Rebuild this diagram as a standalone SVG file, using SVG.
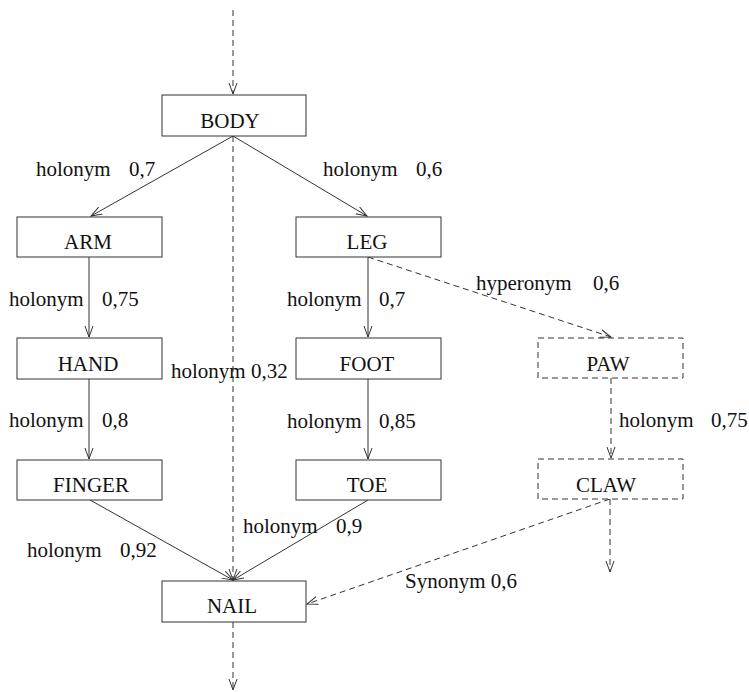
<svg xmlns="http://www.w3.org/2000/svg" width="749" height="692" viewBox="0 0 749 692">
<defs>
<style>
.box{fill:#fff;stroke:#333;stroke-width:1}
.dbox{fill:#fff;stroke:#333;stroke-width:1;stroke-dasharray:6 4}
.nl{font-family:"Liberation Serif","Times New Roman",serif;font-size:21px;fill:#111;text-anchor:middle}
.el{font-family:"Liberation Serif","Times New Roman",serif;font-size:21px;fill:#111}
.c{fill:none;stroke:#333;stroke-width:1}
.d{fill:none;stroke:#333;stroke-width:1;stroke-dasharray:6 4}
</style>
<marker id="ah" markerUnits="userSpaceOnUse" markerWidth="12" markerHeight="10" refX="11" refY="4.5" orient="auto">
<path d="M0,0.5 L11,4.5 L0,8.5" fill="none" stroke="#333" stroke-width="1"/>
</marker>
</defs>
<rect width="749" height="692" fill="#fff"/>
<g id="connectors">
<line class="d" x1="233" y1="10" x2="233" y2="94" marker-end="url(#ah)"/>
<line class="c" x1="233" y1="136" x2="91" y2="216" marker-end="url(#ah)"/>
<line class="c" x1="233" y1="136" x2="367" y2="216" marker-end="url(#ah)"/>
<line class="d" x1="233" y1="136" x2="233" y2="580" marker-end="url(#ah)"/>
<line class="c" x1="89" y1="257" x2="89" y2="337" marker-end="url(#ah)"/>
<line class="c" x1="89" y1="379" x2="89" y2="459" marker-end="url(#ah)"/>
<line class="c" x1="368" y1="257" x2="368" y2="337" marker-end="url(#ah)"/>
<line class="c" x1="368" y1="379" x2="368" y2="459" marker-end="url(#ah)"/>
<line class="c" x1="90" y1="500" x2="233" y2="580" marker-end="url(#ah)"/>
<line class="c" x1="368" y1="500" x2="233" y2="580" marker-end="url(#ah)"/>
<line class="d" x1="368" y1="257" x2="611" y2="337" marker-end="url(#ah)"/>
<line class="d" x1="611" y1="378" x2="611" y2="458" marker-end="url(#ah)"/>
<line class="d" x1="610" y1="499" x2="307" y2="604" marker-end="url(#ah)"/>
<line class="d" x1="610" y1="499" x2="610" y2="572" marker-end="url(#ah)"/>
<line class="d" x1="233" y1="622" x2="233" y2="690" marker-end="url(#ah)"/>
</g>
<g id="edge-labels">
<text class="el" x="36" y="176">holonym<tspan x="129">0,7</tspan></text>
<text class="el" x="323" y="176">holonym<tspan x="416">0,6</tspan></text>
<text class="el" x="9" y="306">holonym<tspan x="102">0,75</tspan></text>
<text class="el" x="287" y="306">holonym<tspan x="379">0,7</tspan></text>
<text class="el" x="476" y="290">hyperonym<tspan x="593">0,6</tspan></text>
<text class="el" x="171" y="378">holonym 0,32</text>
<text class="el" x="9" y="427">holonym<tspan x="102">0,8</tspan></text>
<text class="el" x="287" y="428">holonym<tspan x="379">0,85</tspan></text>
<text class="el" x="619" y="427">holonym<tspan x="711">0,75</tspan></text>
<text class="el" x="27" y="557">holonym<tspan x="120">0,92</tspan></text>
<text class="el" x="243" y="533">holonym<tspan x="336">0,9</tspan></text>
<text class="el" x="405" y="588">Synonym 0,6</text>
</g>
<g id="BODY"><rect class="box" x="162" y="95" width="144" height="41"/><text class="nl" x="230" y="128">BODY</text></g>
<g id="ARM"><rect class="box" x="17" y="217" width="145" height="40"/><text class="nl" x="88" y="249">ARM</text></g>
<g id="LEG"><rect class="box" x="296" y="217" width="145" height="40"/><text class="nl" x="367" y="249">LEG</text></g>
<g id="HAND"><rect class="box" x="17" y="338" width="145" height="41"/><text class="nl" x="88" y="371">HAND</text></g>
<g id="FOOT"><rect class="box" x="296" y="338" width="145" height="41"/><text class="nl" x="367" y="371">FOOT</text></g>
<g id="PAW"><rect class="dbox" x="538" y="338" width="145" height="40"/><text class="nl" x="608" y="371">PAW</text></g>
<g id="FINGER"><rect class="box" x="17" y="460" width="145" height="40"/><text class="nl" x="91" y="492">FINGER</text></g>
<g id="TOE"><rect class="box" x="296" y="460" width="145" height="40"/><text class="nl" x="367" y="492">TOE</text></g>
<g id="CLAW"><rect class="dbox" x="538" y="459" width="145" height="40"/><text class="nl" x="606" y="492">CLAW</text></g>
<g id="NAIL"><rect class="box" x="162" y="581" width="144" height="41"/><text class="nl" x="232" y="613">NAIL</text></g>
</svg>
